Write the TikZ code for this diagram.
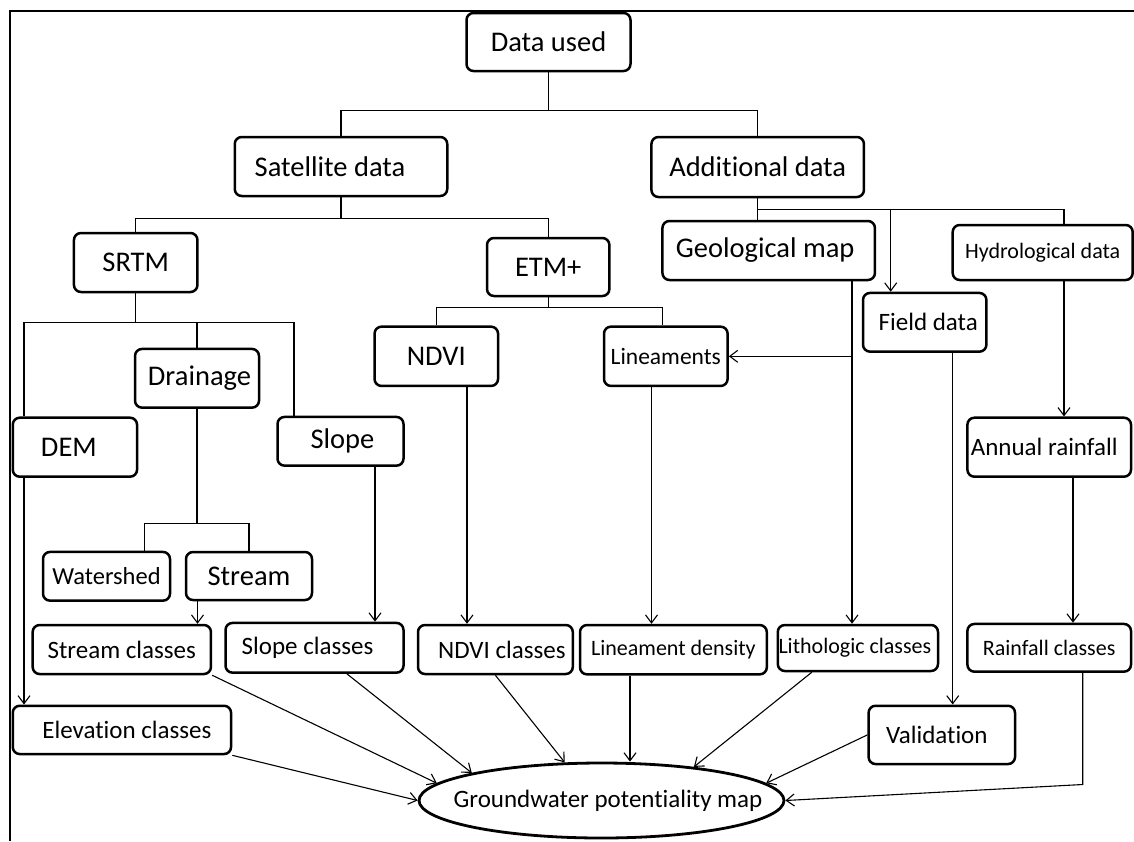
\documentclass[tikz,border=0pt]{standalone}
\usepackage{fontspec}
\setmainfont{Carlito}[Ligatures={NoCommon,NoContextual}]
\usetikzlibrary{arrows.meta,calc,shapes.geometric}
\begin{document}
\begin{tikzpicture}[x=1pt,y=-1pt,
  box/.style={draw,line width=2.5pt,rounded corners=7pt,inner sep=0pt,align=center},
  con/.style={line width=1.1pt},
  arr/.style={line width=1.1pt,-{Straight Barb[length=8pt,width=12pt,line width=1.1pt]}},
  big/.style={font=\fontsize{28.5}{30}\selectfont},
  med/.style={font=\fontsize{25}{27}\selectfont},
  sml/.style={font=\fontsize{22}{24}\selectfont}]
\useasboundingbox (0,0) rectangle (1134,841);
\draw[line width=1.3pt] (10,841) -- (10,11) -- (1134,11);

\node[box,big,minimum width=164pt,minimum height=58pt] (du) at (548.5,42) {Data used};
\node[box,big,minimum width=212.5pt,minimum height=59pt] (sat) at (341,166.5) {Satellite data\hspace{22pt}};
\node[box,big,minimum width=212.5pt,minimum height=60pt] (add) at (757.7,167) {Additional data};
\node[box,big,minimum width=123.5pt,minimum height=59pt] (srtm) at (135.7,262.5) {SRTM};
\node[box,big,minimum width=122.4pt,minimum height=58pt] (etm) at (548.2,267) {ETM+};
\node[box,big,minimum width=212.5pt,minimum height=59pt] (geo) at (768.7,250.5) {Geological map\hspace{7pt}};
\node[box,sml,minimum width=180pt,minimum height=55pt] (hyd) at (1042.7,252.5) {Hydrological data};
\node[box,med,minimum width=123.4pt,minimum height=58.7pt] (fld) at (924.7,322.3) {\hspace{7pt}Field data};
\node[box,big,minimum width=123.5pt,minimum height=59.3pt] (ndvi) at (436.3,356.3) {NDVI};
\node[box,font=\fontsize{23.5}{25}\selectfont,minimum width=123.6pt,minimum height=59.3pt] (lin) at (665.8,356.3) {Lineaments};
\node[box,big,minimum width=124pt,minimum height=58.7pt] (drn) at (197,378.3) {\hspace{5pt}Drainage};
\node[box,big,minimum width=124.3pt,minimum height=59pt] (dem) at (74.9,447.2) {DEM\hspace{12pt}};
\node[box,big,minimum width=126pt,minimum height=48.7pt] (slp) at (340.5,441.3) {\hspace{4pt}Slope};
\node[box,med,minimum width=163.6pt,minimum height=59pt] (ann) at (1049.2,447.2) {Annual rainfall\hspace{10pt}};
\node[box,font=\fontsize{24.5}{26}\selectfont,minimum width=127pt,minimum height=48.7pt] (wsh) at (106.5,576.3) {Watershed};
\node[box,big,minimum width=126pt,minimum height=48pt] (str) at (249,576) {Stream};
\node[box,med,minimum width=178.3pt,minimum height=49pt] (strc) at (121.8,649.5) {Stream classes};
\node[box,med,minimum width=178pt,minimum height=49.7pt] (slpc) at (314.5,647.8) {Slope classes\hspace{14pt}};
\node[box,med,minimum width=154.8pt,minimum height=49pt] (ndvic) at (495.4,649.5) {\hspace{13pt}NDVI classes};
\node[box,sml,minimum width=186.8pt,minimum height=49.3pt] (lind) at (673.4,649.7) {Lineament density};
\node[box,sml,minimum width=160.2pt,minimum height=46pt] (lith) at (857.9,648) {Lithologic classes\hspace{6pt}};
\node[box,sml,minimum width=163.6pt,minimum height=47.7pt] (rainc) at (1049.2,647.8) {Rainfall classes};
\node[box,med,minimum width=218.3pt,minimum height=48.3pt] (elev) at (121.9,729.9) {\hspace{10pt}Elevation classes};
\node[box,med,minimum width=146.4pt,minimum height=58.3pt] (val) at (941.8,734.9) {Validation\hspace{10pt}};
\node[draw,ellipse,line width=2.8pt,inner sep=0pt,med,minimum width=365pt,minimum height=75pt] (gw) at (601.5,800.5) {\makebox[0pt]{\hspace{13pt}Groundwater potentiality map}};

% Data used
\draw[con] (du.south) -- ++(0,38) coordinate (j1);
\draw[con] (sat.north) |- (j1) -| (add.north);
% Satellite data
\draw[con] (sat.south) -- ++(0,21) coordinate (j2);
\draw[con] (srtm.north) |- (j2) -| (etm.north);
% Additional data
\draw[con] (add.south) -- ++(0,11) coordinate (j3);
\draw[con] (geo.north -| j3) |- (j3) -| ($(hyd.north)+(21.3,0)$);
\draw[arr] ($(j3)+(133,0)$) coordinate (j3f) -- (j3f |- fld.north);
% SRTM
\draw[con] (srtm.south) -- ++(0,29.5) coordinate (j4);
\draw[con] ($(dem.north)+(-50.9,0)$) |- (j4) -| ($(slp.north)+(-46.5,0)$);
\draw[con] (drn.north) -- (drn.north |- j4);
\draw[arr] ($(dem.south)+(-50.9,0)$) coordinate (d2) -- (d2 |- elev.north);
% Drainage
\draw[con] (drn.south) -- ++(0,115) coordinate (j5);
\draw[con] ($(wsh.north)+(38.2,0)$) |- (j5) -| (str.north);
\draw[arr] ($(str.south)+(-51.5,0)$) coordinate (s1) -- (s1 |- strc.north);
% Slope
\draw[arr] ($(slp.south)+(34.5,0)$) coordinate (s2) -- (s2 |- slpc.north);
% ETM+
\draw[con] (etm.south) -- ++(0,10) coordinate (j6);
\draw[con] (ndvi.north) |- (j6) -| ($(lin.north)+(-3.3,0)$);
\draw[arr] ($(ndvi.south)+(30.7,0)$) coordinate (s3) -- (s3 |- ndvic.north);
\draw[arr] ($(lin.south)+(-14.3,0)$) coordinate (s4) -- (s4 |- lind.north);
% Geological map
\draw[arr] ($(geo.south)+(83.3,0)$) coordinate (s5) -- (s5 |- lith.north);
\draw[arr] (s5 |- lin.east) -- (lin.east);
% Field data, hydrological
\draw[arr] ($(fld.south)+(28,0)$) coordinate (s6) -- (s6 |- val.north);
\draw[arr] ($(hyd.south)+(21.3,0)$) coordinate (s7) -- (s7 |- ann.north);
\draw[arr] ($(ann.south)+(23.8,0)$) coordinate (s8) -- (s8 |- rainc.north);
% to groundwater map
\draw[arr] (elev.south east) -- (gw.west);
\draw[arr] (strc.south east) -- (gw.174);
\draw[arr] ($(slpc.south)+(32.5,0)$) -- (gw.168);
\draw[arr] (ndvic.south) -- (gw.134);
\draw[arr] ($(lind.south)+(-43.4,0)$) coordinate (s9) -- (s9 |- gw.north);
\draw[arr] ($(lith.south)+(-46.1,0)$) -- (gw.20);
\draw[arr] (val.west) -- (gw.6);
\draw[arr] ($(rainc.south)+(33.5,0)$) -- ++(0,111.6) -- (gw.east);
\end{tikzpicture}
\end{document}
